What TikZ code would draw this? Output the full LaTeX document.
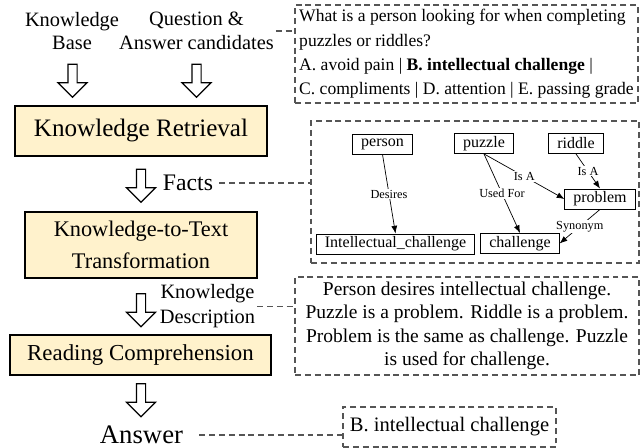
\documentclass[tikz,border=0pt]{standalone}
\usepackage{fontspec}
\setmainfont{Liberation Serif}
\usetikzlibrary{arrows.meta,shapes.arrows}
\definecolor{boxfill}{HTML}{FFF2CC}
\definecolor{dashgray}{HTML}{555555}

\begin{document}
\begin{tikzpicture}[scale=1.0]
\tikzset{ >={Latex[length=4.4pt,width=3.4pt]},
  stage/.style={draw, fill=boxfill, line width=0.6pt, align=center, inner sep=0pt},
  hollow/.style={draw, fill=white, line width=0.7pt, single arrow, shape border rotate=270,
    inner sep=0.08cm, single arrow head extend=0.2cm, single arrow tip angle=90, minimum height=0.66cm},
  sidetext/.style={align=center, inner xsep=1pt, font=\fontsize{11.6}{13.4}\selectfont},
  infobox/.style={draw=dashgray, dash pattern=on 3.4pt off 2.2pt, line width=0.6pt, align=center, inner sep=0pt},
  link/.style={dashgray, line width=0.6pt, dash pattern=on 3.4pt off 2.2pt},
  concept/.style={draw, line width=0.5pt, inner xsep=0.17cm, inner ysep=0pt, minimum height=0.4cm,
    font=\fontsize{9.1}{11}\selectfont},
  rel/.style={font=\fontsize{7}{8}\selectfont, fill=white, inner sep=0.6pt, midway},
}

\useasboundingbox (0,0) rectangle (12.88,8.96);

%%% Pipeline

% inputs
\node [sidetext] (KB) at (1.44,8.34) {Knowledge\\Base};
\node [sidetext] (QA) at (3.93,8.34) {Question \&\\Answer candidates};
\node [hollow] (KBarr) at (1.45,7.39) { };
\node [hollow] (QAarr) at (3.93,7.39) { };

% Knowledge Retrieval
\node [stage, minimum width=5.04cm, minimum height=1.0cm, font=\fontsize{14.3}{17}\selectfont] (KR) at (2.82,6.34) {Knowledge Retrieval};
\node [hollow] (Farr) at (2.82,5.29) { };
\node [font=\fontsize{13.5}{16}\selectfont] (facts) at (3.76,5.30) {Facts};

% Knowledge-to-Text
\node [stage, minimum width=4.64cm, minimum height=1.32cm, font=\fontsize{12.7}{18.2}\selectfont] (KT) at (2.82,4.06) {Knowledge-to-Text\\Transformation};
\node [hollow] (KDarr) at (2.82,2.80) { };
\node [sidetext, font=\fontsize{11.6}{14.2}\selectfont] (KD) at (4.15,2.83) {Knowledge\\Description};

% Reading Comprehension
\node [stage, minimum width=5.22cm, minimum height=0.8cm, font=\fontsize{13}{16}\selectfont] (RC) at (2.81,1.86) {Reading Comprehension};
\node [hollow] (Aarr) at (2.82,1.0) { };
\node [font=\fontsize{15.2}{18}\selectfont] (ans) at (2.83,0.26) {Answer};

%%% Examples

% question
\node [infobox, align=left, minimum width=6.86cm, minimum height=1.96cm, font=\fontsize{10}{13.9}\selectfont] (Qbox) at (9.33,7.88)
  {What is a person looking for when completing\\puzzles or riddles?\\A. avoid pain | \textbf{B. intellectual challenge} |\\C. compliments | D. attention | E. passing grade};

% facts graph
\node [infobox, minimum width=6.56cm, minimum height=2.84cm] (KG) at (9.5,5.12) { };
\node [concept] (person)  at (7.65,6.08)  {person};
\node [concept] (puzzle)  at (9.68,6.09)  {puzzle};
\node [concept] (riddle)  at (11.52,6.09) {riddle};
\node [concept] (problem) at (12.0,4.98)  {problem};
\node [concept] (intel)   at (7.91,4.08)  {Intellectual\_challenge};
\node [concept] (chall)   at (10.4,4.09)  {challenge};

% description
\node [infobox, minimum width=6.88cm, minimum height=1.96cm, font=\fontsize{11.1}{13.3}\selectfont] (Desc) at (9.34,2.44)
  {Person desires intellectual challenge.\\Puzzle is a problem. Riddle is a problem.\\Problem is the same as challenge. Puzzle\\is used for challenge.};

% answer
\node [infobox, minimum width=4.26cm, minimum height=0.8cm, font=\fontsize{11.7}{14}\selectfont] (Abox) at (8.99,0.42) {B. intellectual challenge};

%%% Lines

% graph relations
\draw [->, thin] (person.south)  -- (intel.north)   node [rel] {Desires};
\draw [->, thin] (puzzle.south)  -- (problem.west)  node [rel] {Is A};
\draw [->, thin] (puzzle.south)  -- (chall.north)   node [rel] {Used For};
\draw [->, thin] (riddle.south)  -- (problem.north) node [rel] {Is A};
\draw [->, thin] (problem.south) -- (chall.east)    node [rel] {Synonym};

% pointers to examples
\draw [link] (QA.east) -- (QA.east -| Qbox.west);
\draw [link] (facts.east) -- (facts.east -| KG.west);
\draw [link] (KD.east) -- (KD.east -| Desc.west);
\draw [link, shorten <=0.2cm] (ans.east) -- (ans.east -| Abox.west);

\end{tikzpicture}
\end{document}
